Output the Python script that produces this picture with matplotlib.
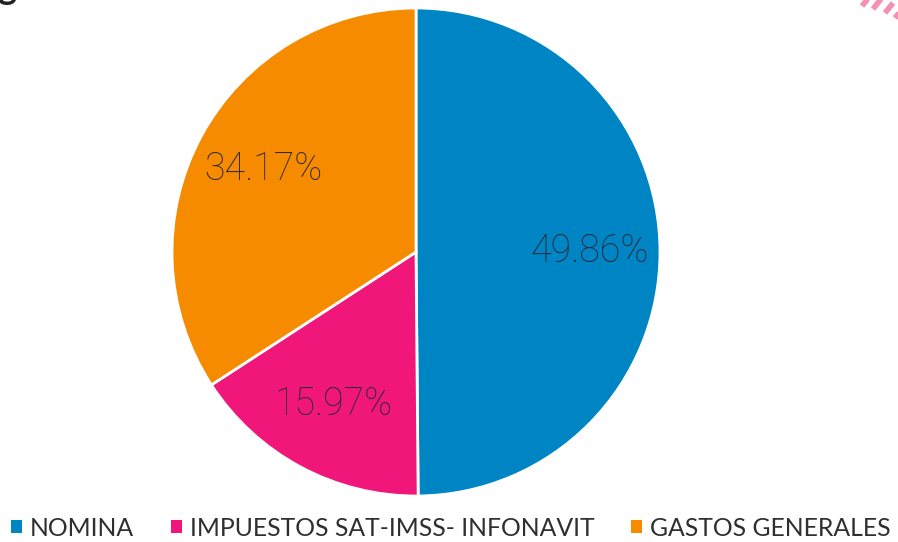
import matplotlib
matplotlib.use("Agg")
import matplotlib.pyplot as plt
from matplotlib.patches import Patch
from matplotlib.lines import Line2D

# data
labels = ["NOMINA", "IMPUESTOS SAT-IMSS- INFONAVIT", "GASTOS GENERALES"]
values = [49.86, 15.97, 34.17]
colors = ["#0085C4", "#F0167A", "#F78B00"]

plt.rcParams['font.family'] = ['Lato', 'DejaVu Sans']

W, H = 898, 542
fig = plt.figure(figsize=(W / 100, H / 100), dpi=100)

# pie axes: center ~ (416, 252) px, radius ~244 px
cx, cy, r = 416, 252, 244
ax = fig.add_axes([(cx - r) / W, (H - cy - r) / H, 2 * r / W, 2 * r / H])
wedges, texts, autotexts = ax.pie(
    values, colors=colors, startangle=90, counterclock=False,
    autopct="%.2f%%", pctdistance=0.71,
    wedgeprops=dict(edgecolor="white", linewidth=2),
    textprops=dict(color="#2A2838", fontsize=27, fontweight="light",
                   family=["Roboto", "DejaVu Sans"]),
)
ax.set_aspect("equal")
ax.set_xlim(-1.0, 1.0)
ax.set_ylim(-1.0, 1.0)

# legend along the bottom
handles = [Patch(facecolor=c, edgecolor="none") for c in colors]
fig.legend(handles, labels, loc="center", bbox_to_anchor=(0.502, 1 - 528 / H),
           ncol=3, frameon=False, fontsize=17.8, handlelength=0.45, handleheight=0.45,
           handletextpad=0.3, columnspacing=1.5, labelcolor="#2F2F2F")

# cropped heading at the top-left (only the bottom of the glyphs is visible)
fig.text(-2 / W, 1 + 1 / H, "gresos 2021", fontsize=26, fontweight="bold",
         color="#222222", va="baseline", ha="left")

# pink stripe decoration top-right
for sx, sy in [(866, 1), (877, 4), (889, 8), (899, 13)]:
    fig.add_artist(Line2D([(sx - 4) / W, (sx + 4) / W],
                          [1 - (sy + 5) / H, 1 - (sy - 5) / H],
                          transform=fig.transFigure, color="#F48FB8",
                          linewidth=4, solid_capstyle="butt"))

fig.savefig("out.png", dpi=100)
